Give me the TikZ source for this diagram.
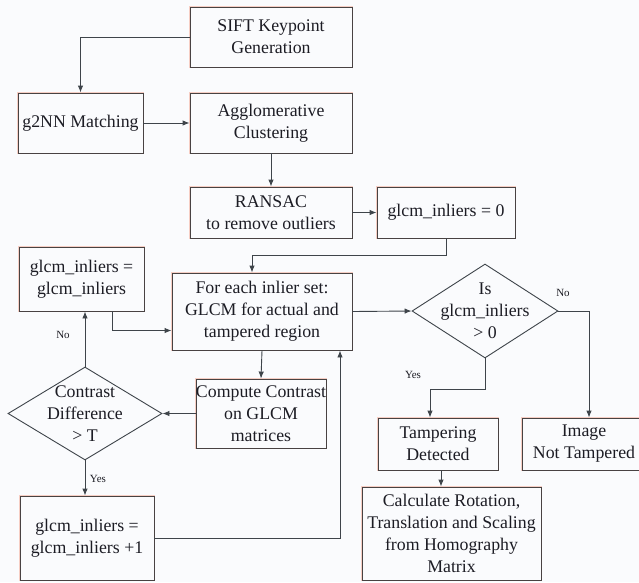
\documentclass[tikz,border=0pt]{standalone}
\usepackage{fontspec}
\setmainfont{Liberation Serif}
\usetikzlibrary{arrows.meta,shapes.geometric}
\definecolor{bgcol}{RGB}{250,251,253}
\definecolor{edgecol}{RGB}{72,66,66}
\definecolor{glowcol}{RGB}{246,206,196}
\definecolor{linecol}{RGB}{62,68,74}
\definecolor{inkcol}{RGB}{28,28,36}
\tikzset{
  block/.style={draw=edgecol, line width=0.9pt, preaction={draw=glowcol, line width=2.4pt},
    fill=bgcol, align=center, inner sep=0pt, text=inkcol,
    font=\fontsize{17.8}{22}\selectfont},
  decision/.style={diamond, draw=linecol, line width=0.9pt, inner sep=0pt},
  dtext/.style={align=center, text=inkcol, font=\fontsize{17.8}{22}\selectfont},
  flow/.style={-{Latex[length=7pt,width=5.5pt]}, draw=linecol, line width=0.9pt},
  tag/.style={text=inkcol, font=\fontsize{11}{13}\selectfont},
}
\begin{document}
\begin{tikzpicture}[x=1pt,y=-1pt]
\fill[bgcol] (0,0) rectangle (639,582);
\useasboundingbox (0,0) rectangle (639,582);
% upper chain
\node[block, minimum width=162pt, minimum height=60pt] (sift) at (271,37) {SIFT Keypoint\\Generation};
\node[block, minimum width=125pt, minimum height=60pt] (gnn) at (80.5,123) {g2NN Matching};
\node[block, minimum width=162pt, minimum height=60pt] (agglo) at (271,123) {Agglomerative\\Clustering};
\node[block, minimum width=162pt, minimum height=51pt] (ransac) at (271,212.5) {RANSAC\\to remove outliers};
\node[block, minimum width=138pt, minimum height=51pt] (zero) at (446,212.5) {glcm\_inliers = 0};
% loop over inlier sets
\node[block, minimum width=125pt, minimum height=64pt] (same) at (81.5,279) {glcm\_inliers =\\glcm\_inliers};
\node[block, minimum width=180pt, minimum height=77pt] (foreach) at (262,311.5) {For each inlier set:\\GLCM for actual and\\tampered region};
\node[block, minimum width=128pt, minimum height=69pt] (compute) at (261,413.5) {Compute Contrast\\on GLCM\\matrices};
\node[decision, minimum width=154pt, minimum height=93pt,
  label={[dtext]center:{Contrast\\Difference\\> T}}] (condia) at (85,413.5) {};
\node[block, minimum width=134pt, minimum height=84pt] (plusone) at (87,538) {glcm\_inliers =\\glcm\_inliers +1};
% decision on the count
\node[decision, minimum width=146pt, minimum height=94pt,
  label={[dtext]center:{Is\\glcm\_inliers\\> 0}}] (isdia) at (485,311) {};
\node[block, minimum width=120pt, minimum height=52pt] (tamp) at (438,444) {Tampering\\Detected};
\node[block, minimum width=124pt, minimum height=52pt] (notamp) at (584,444) {Image\\Not Tampered};
\node[block, minimum width=179pt, minimum height=93pt] (calc) at (451.5,533.5) {Calculate Rotation,\\Translation and Scaling\\from Homography\\Matrix};
\node[tag] (noA) at (63,335) {No};
\node[tag] (yesA) at (98,479) {Yes};
\node[tag] (noB) at (563,293) {No};
\node[tag] (yesB) at (413,375) {Yes};
% connectors
\draw[flow] (sift.west) -| (gnn.north);
\draw[flow] (gnn.east) -- (agglo.west);
\draw[flow] (agglo.south) -- (ransac.north);
\draw[flow] (ransac.east) -- (zero.west);
\draw[flow] (zero.south) -- ++(0,17) -| ([xshift=-10pt]foreach.north);
\draw[flow] ([xshift=30.5pt]same.south) |- ([yshift=-19pt]foreach.west);
\draw[flow] (foreach.east) -- (isdia.west);
\draw[flow] (isdia.east) -| ([xshift=5pt]notamp.north);
\draw[flow] (isdia.south) -- ++(0,31) -| ([xshift=-8pt]tamp.north);
\draw[flow] ([xshift=3pt]tamp.south) -- ([xshift=3pt]tamp.south |- calc.north);
\draw[flow] (foreach.south) -- (compute.north);
\draw[flow] (compute.west) -- (condia.east);
\draw[flow] (condia.north) -- (condia.north |- same.south);
\draw[flow] (condia.south) -- (condia.south |- plusone.north);
\draw[flow] (plusone.east) -| ([xshift=78pt]foreach.south);
\end{tikzpicture}
\end{document}
